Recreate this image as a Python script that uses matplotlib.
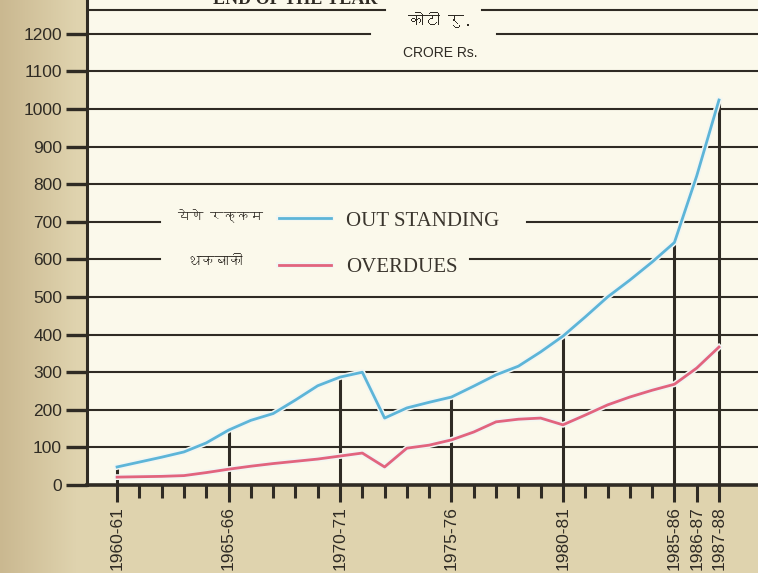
import numpy as np
import matplotlib
matplotlib.use("Agg")
import matplotlib.pyplot as plt
import matplotlib.patheffects as pe
from matplotlib import font_manager
from matplotlib.colors import LinearSegmentedColormap
from matplotlib.ft2font import FT2Font

# co-operative credit, position at end of each year (crore Rs.)
seasons = ["1960-61", "1961-62", "1962-63", "1963-64", "1964-65", "1965-66",
           "1966-67", "1967-68", "1968-69", "1969-70", "1970-71", "1971-72",
           "1972-73", "1973-74", "1974-75", "1975-76", "1976-77", "1977-78",
           "1978-79", "1979-80", "1980-81", "1981-82", "1982-83", "1983-84",
           "1984-85", "1985-86", "1986-87", "1987-88"]
outstanding = [48, 61, 74, 88, 112, 146, 172, 190, 226, 264, 287, 300, 178, 205,
               220, 234, 263, 293, 316, 354, 396, 447, 500, 545, 593, 645, 822, 1024]
overdues = [21, 22, 23, 25, 33, 42, 50, 57, 63, 69, 77, 85, 48, 98,
            106, 120, 141, 168, 175, 178, 160, 186, 213, 234, 252, 268, 311, 367]
labelled = ["1960-61", "1965-66", "1970-71", "1975-76", "1980-81",
            "1985-86", "1986-87", "1987-88"]
dropped = ["1960-61", "1965-66", "1970-71", "1975-76", "1980-81",
           "1985-86", "1987-88"]
y_ticks = [0, 100, 200, 300, 400, 500, 600, 700, 800, 900, 1000, 1100, 1200]

PAGE = "#dfd3ae"
PAGE_EDGE = "#cab890"
PAPER = "#fbf9eb"
INK = "#2f2b24"
BLUE = "#5db5d8"
RED = "#e2647e"


def font_with(ch):
    """First installed family that has a glyph for ch."""
    for f in font_manager.fontManager.ttflist:
        try:
            if ord(ch) in FT2Font(f.fname).get_charmap():
                return f.name
        except Exception:
            continue
    return None


deva = font_with("क")
HINDI = [deva, "DejaVu Sans"] if deva else ["DejaVu Sans"]
SANS = ["Liberation Sans", "DejaVu Sans"]
SERIF = ["Liberation Serif", "DejaVu Serif"]

x = np.arange(len(seasons))
pos = {s: i for i, s in enumerate(seasons)}

fig = plt.figure(figsize=(7.58, 5.73), dpi=100, facecolor=PAGE)

# page tone darkens towards the binding on the left
bg = fig.add_axes([0, 0, 1, 1], zorder=-1)
bg.axis("off")
shade = LinearSegmentedColormap.from_list("page", [PAGE_EDGE, PAGE])
bg.imshow(np.linspace(0, 1, 256)[None, :], cmap=shade, aspect="auto",
          interpolation="bilinear", extent=(0, 0.1, 0, 1))
bg.set_xlim(0, 1)
bg.set_ylim(0, 1)

ax = fig.add_axes([87 / 758, 88 / 573, 1 - 87 / 758, 485 / 573])
ax.set_facecolor(PAPER)
ax.set_xlim(-1.35, 28.75)
ax.set_ylim(0, 1290)

# horizontal rules, broken where the captions sit
gaps = {1200: [(0, 0.422), (0.611, 1)],
        1263: [(0, 0.444), (0.589, 1)],
        700: [(0, 0.109), (0.656, 1)],
        600: [(0, 0.109), (0.571, 1)]}
for v in y_ticks[1:] + [1263]:
    for a, b in gaps.get(v, [(0, 1)]):
        ax.axhline(v, a, b, color=INK, lw=1.5, zorder=1)

# drop lines from the axis up to the outstanding figure
dx = [pos[s] for s in dropped]
ax.vlines(dx, 0, [outstanding[i] for i in dx], color=INK, lw=2.2, zorder=2)

halo = [pe.withStroke(linewidth=4.2, foreground="#f2f6f2")]
ax.plot(x, outstanding, color=BLUE, lw=2.0, zorder=4, path_effects=halo,
        label="OUT STANDING")
ax.plot(x, overdues, color=RED, lw=2.0, zorder=4, path_effects=halo,
        label="OVERDUES")

# axes styling
for side in ("top", "right"):
    ax.spines[side].set_visible(False)
ax.spines["left"].set_linewidth(2.2)
ax.spines["bottom"].set_linewidth(2.6)
ax.spines["left"].set_color(INK)
ax.spines["bottom"].set_color(INK)

ax.set_yticks(y_ticks)
ax.set_yticklabels([str(v) for v in y_ticks], family=SANS, fontsize=12.5,
                   color=INK)
ax.tick_params(axis="y", length=15, width=2.4, pad=3, color=INK)

lx = [pos[s] for s in labelled]
ax.set_xticks(lx)
ax.set_xticklabels(labelled, rotation=90, family=SANS, fontsize=12.5,
                   color=INK, va="top")
ax.set_xticks([i for i in x if i not in lx], minor=True)
ax.tick_params(axis="x", which="major", length=12, width=2.2, pad=3, color=INK,
               direction="out")
ax.tick_params(axis="x", which="minor", length=9, width=2.2, color=INK,
               direction="out")

# legend: Hindi caption, sample line, English caption
leg = ax.legend(loc="upper left", bbox_to_anchor=(0.27, 0.586),
                frameon=False, borderpad=0, handlelength=2.5,
                handletextpad=0.75, labelspacing=1.3,
                prop={"family": SERIF, "size": 15})
for t in leg.get_texts():
    t.set_color("#3a352d")
ax.text(4.6, 714, "येणे रक्कम", family=HINDI, fontsize=9.5,
        fontweight="bold", color=INK, ha="center", va="center", zorder=5)
ax.text(4.4, 592, "थकबाकी", family=HINDI, fontsize=10,
        fontweight="bold", color=INK, ha="center", va="center", zorder=5)

# unit captions and the clipped heading
ax.text(14.5, 1237, "कोटी रु.", family=HINDI, fontsize=11.5, color=INK,
        ha="center", va="center")
ax.text(14.5, 1149, "CRORE Rs.", family=SANS, fontsize=10, color=INK,
        ha="center", va="center")
ax.text(7.98, 1268, "END OF THE YEAR", family=SERIF, fontsize=13,
        fontweight="bold", color=INK, ha="center", va="bottom",
        clip_on=False)

fig.savefig("out.png", dpi=100, facecolor=PAGE)
